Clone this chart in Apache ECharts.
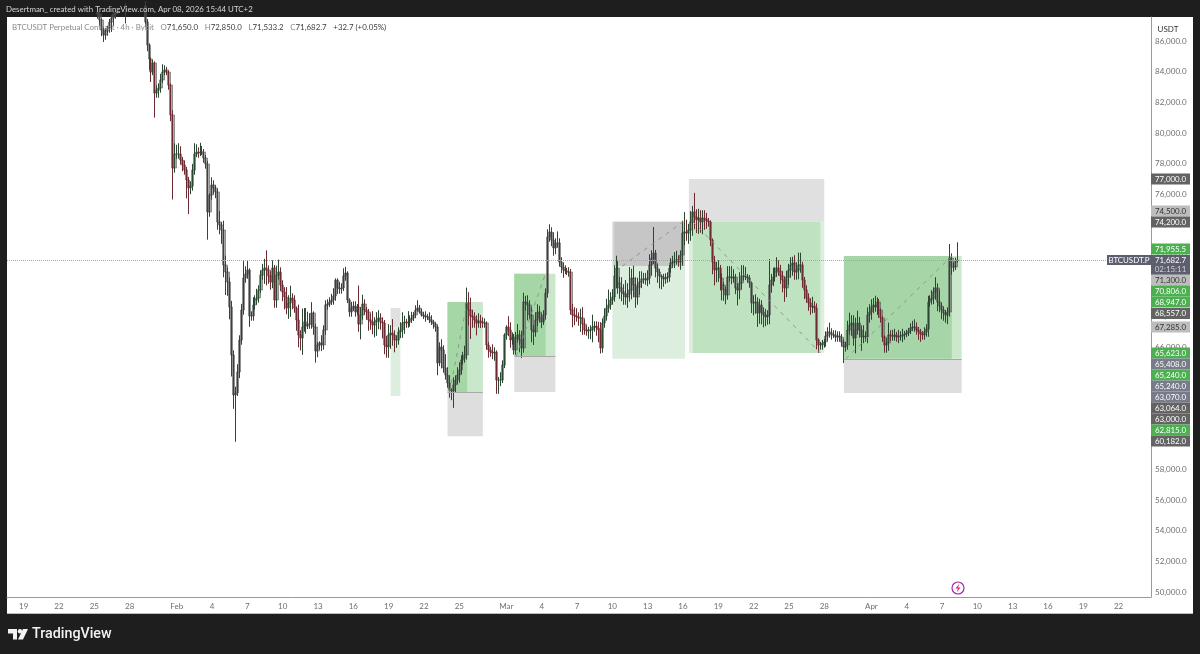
<!DOCTYPE html>
<html>
<head>
<meta charset="utf-8">
<title>BTCUSDT.P 4h</title>
<style>
  html, body { margin: 0; padding: 0; background: #1e1e1e; }
  #chart { width: 1200px; height: 654px; }
</style>
<script src="https://cdn.jsdelivr.net/npm/echarts@6/dist/echarts.min.js"></script>
</head>
<body>
<div id="chart"></div>
<script>
// 4h closes (first bar sits in slot 46)
const closes = [
  87780,87385,86730,86405,86665,86860,87255,87515,87780,87910,
  88365,88495,88495,88300,88170,88365,88495,88495,88625,88625,
  88365,88495,88495,88300,87255,85750,84835,83985,84575,82615,
  82810,82940,83465,83985,84120,83985,83135,81175,77710,78625,
  78625,78625,78235,77905,77580,76930,76405,76535,77580,78625,
  78755,78690,78755,78755,78365,77975,74835,75945,76600,76405,
  76145,74185,73985,73660,71375,70915,70260,68625,65490,62875,
  63010,64380,66470,68430,70520,70785,71045,68040,68040,68760,
  69085,69215,69740,70720,71045,71175,71045,70650,70260,71175,
  69085,70720,70915,70065,69610,69280,68560,68890,69215,69085,
  68560,67780,66800,66600,67320,67650,67385,67515,67515,68235,67320,
  65750,66145,66275,66145,67125,68760,68825,68955,69085,69345,
  70390,69870,69805,69870,70650,70850,69085,68300,68560,68690,
  68300,68625,67515,68105,68825,68430,68300,67780,67650,67450,
  67650,67780,67910,67650,67580,66145,66015,66800,66930,66800,
  66470,66470,66995,67125,67580,67650,67580,67650,67780,67910,
  68105,68430,68560,68300,68105,68040,67975,67975,67780,67650,
  67515,67320,64970,66015,65820,64640,64185,63660,63205,63140,
  63530,63855,64185,64510,65165,65295,65490,68890,68430,68040,
  67975,67780,67580,67710,67650,67580,67580,66145,65820,65685,
  65620,65685,63855,63855,63855,64835,66800,67320,67125,66470,
  66665,65820,66600,66800,66470,65945,68955,68890,68760,68105,
  67125,66995,67780,68300,67910,67650,68105,69540,73200,73530,
  73005,72485,72810,72810,71570,71240,71045,70980,70915,70915,
  68430,68105,68040,67975,67910,67910,67515,67125,67060,67125,
  67125,67320,67385,67255,67125,65945,67580,68040,68560,68760,
  69085,69280,70650,71175,70195,69870,69610,69480,69280,69480,
  69740,70520,70065,69280,69935,70260,70455,70455,70390,70520,
  71375,71830,72155,71175,70915,70650,70590,70455,70520,70590,
  71175,71505,71570,71700,71700,71570,72025,73465,73530,73465,
  73660,74185,74835,74510,74315,74445,74185,74445,74380,74250,
  74185,73005,71570,71045,71175,71175,70520,70065,69740,69410,
  70590,70590,70520,70590,69870,69740,70195,70650,70650,70590,
  70520,70195,68890,68890,68955,68235,68760,68300,68105,67975,
  68105,70065,70390,70590,70915,71175,70980,70650,70390,69870,
  70590,71045,71375,71505,70915,71045,71375,71375,70390,69740,
  69215,68890,68625,68690,68560,66470,66145,66145,66275,66340,
  66730,66995,66930,66800,66800,66665,66730,66665,66340,66015,
  66145,67125,67450,67580,66600,67125,67580,67125,66665,66730,
  66665,68105,68300,68625,68760,68625,68955,68430,67910,66665,
  66145,66275,66800,66730,66730,66800,66665,66730,66730,66800,
  66860,66930,67060,67255,67320,67320,67125,66995,66860,66800,
  66995,67190,68955,69085,69215,69610,69870,68955,68690,68430,
  68235,68105,68300,71830,71240,71240,71650,71682.7
];
// wick lengths above / below the body, in USDT
const upperWicks = [
  200,150,100,150,200,150,200,200,200,200,
  200,200,200,200,200,200,200,200,200,200,
  200,200,200,200,300,200,100,100,200,100,
  300,300,400,500,300,200,100,100,300,700,
  600,700,500,200,300,200,200,300,400,700,
  500,300,600,400,200,200,200,100,500,300,
  200,200,700,200,600,600,300,300,400,300,
  400,500,300,400,1100,500,600,100,300,500,
  300,600,300,300,400,600,1150,300,300,500,
  200,600,800,300,300,300,650,500,800,300,
  300,100,1000,300,1200,900,900,800,700,700,100,
  200,200,100,500,300,300,300,300,400,500,
  100,100,400,300,500,400,100,100,400,300,
  300,200,1400,500,600,300,200,200,400,700,
  300,500,500,300,300,200,600,700,500,900,
  300,300,300,500,700,400,200,700,300,400,
  200,300,500,200,200,200,300,200,300,300,
  100,100,100,300,500,300,900,500,500,100,
  500,300,500,500,300,400,600,1000,700,800,
  400,300,300,500,400,300,300,100,200,200,
  500,300,100,200,500,300,100,100,700,500,
  300,200,400,700,300,600,600,400,500,300,
  500,300,500,500,400,300,300,300,500,500,
  300,500,300,750,300,300,300,300,200,300,
  200,400,500,500,300,600,700,300,300,200,
  300,800,300,300,400,500,300,500,600,1000,
  500,500,700,800,500,400,700,500,900,700,
  1500,600,800,500,600,700,500,400,400,500,
  700,500,1700,200,300,200,100,200,300,300,
  200,300,400,500,600,300,300,800,1300,800,
  400,700,400,1250,500,600,500,500,500,400,
  200,100,100,400,400,500,200,300,200,200,
  700,700,700,500,200,300,700,700,700,600,
  200,200,100,500,500,300,400,300,300,400,
  300,1700,400,600,300,700,500,400,300,200,
  400,400,500,400,500,500,800,800,200,200,
  300,300,300,600,300,300,100,200,200,200,
  300,300,600,300,300,300,300,300,200,200,
  200,600,800,500,500,800,800,400,300,700,
  300,500,500,500,450,600,300,200,100,100,
  100,300,800,300,400,400,200,400,300,400,
  200,200,200,300,400,500,300,200,200,200,
  300,300,400,300,500,300,700,300,800,200,
  200,200,300,915,300,300,200,1167
];
const lowerWicks = [
  300,400,400,450,300,300,300,650,500,300,
  200,300,200,300,1000,300,200,200,200,200,
  200,200,200,500,300,400,700,650,200,1600,
  300,500,300,200,200,200,300,400,2050,300,
  300,300,300,400,300,1200,1700,400,300,300,
  200,300,200,200,300,300,1800,300,300,400,
  400,500,600,900,800,1500,900,800,1400,900,
  3050,200,400,300,300,300,300,700,300,300,
  300,300,300,200,300,900,1000,500,500,400,
  500,500,300,400,600,800,400,700,900,600,
  300,700,800,800,1100,300,500,200,300,300,500,
  750,400,300,400,300,300,300,200,200,300,
  300,400,300,300,200,300,200,300,300,200,
  300,200,500,1000,300,300,500,700,500,600,
  800,900,600,500,1000,600,700,700,900,700,
  800,500,300,400,500,700,300,300,300,200,
  200,200,100,100,100,200,300,200,200,200,
  300,300,800,200,1200,300,300,300,500,600,
  1100,500,300,500,300,300,300,300,1000,1500,
  700,500,800,300,400,300,300,300,500,300,
  400,500,900,900,400,200,200,300,400,500,
  300,300,300,300,800,650,300,500,1000,300,
  800,850,300,400,300,400,200,300,300,300,
  400,500,400,300,300,400,500,200,200,300,
  300,800,600,300,500,900,700,300,300,500,
  600,800,300,500,800,350,300,300,300,300,
  300,300,300,800,700,700,600,700,500,700,
  500,600,800,700,500,500,400,300,300,400,
  400,700,400,600,700,800,800,500,300,300,
  300,300,300,400,300,300,500,700,800,500,
  700,700,900,800,850,900,700,800,700,500,
  300,400,800,1000,800,900,800,1000,700,600,
  300,300,400,300,400,1000,600,400,300,200,
  300,300,650,800,700,900,700,800,800,600,
  500,600,500,400,300,300,300,500,800,900,
  600,500,500,700,500,500,600,500,500,600,
  300,500,500,400,300,600,500,300,300,300,
  300,300,300,300,200,300,300,300,300,1050,
  300,300,300,700,500,1000,300,500,900,400,
  300,400,500,500,400,300,500,500,300,300,
  500,500,500,300,300,300,300,400,300,400,
  300,200,200,200,200,300,300,500,500,300,
  300,300,500,300,300,400,500,600,400,600,
  500,500,600,300,500,300,200,117
];
const firstOpen = 87900;
const lastPrice = 71682.7;

const firstBarSlot = 46;
const slotCount = 583;

const tickDates = ['01-19','01-22','01-25','01-28','02-01','02-04','02-07','02-10','02-13','02-16','02-19','02-22','02-25',
  '03-01','03-04','03-07','03-10','03-13','03-16','03-19','03-22','03-25','03-28','04-01','04-04','04-07','04-10','04-13','04-16','04-19','04-22'];
const tickLabels = ['19','22','25','28','Feb','4','7','10','13','16','19','22','25',
  'Mar','4','7','10','13','16','19','22','25','28','Apr','4','7','10','13','16','19','22'];
const priceTicks = [50000,52000,54000,56000,58000,60000,62000,64000,66000,68000,70000,72000,74000,76000,78000,80000,82000,84000,86000];

// position tool rectangles, back to front (slot indexes and prices)
const zoneStarts  = [195,195,224,224,224,258,258,258,308,309,308,347,347,349,426,426,426];
const zoneEnds    = [200,200,242,242,234,279,279,274,345,345,345,416,416,414,486,486,481];
const zoneTops    = [68557,67285,63070,68947,68947,65408,70806,70806,74200,74200,71300,77000,74200,74200,65240,71955.5,71955.5];
const zoneBottoms = [67285,62815,60182,63070,63070,63064,65408,65408,71300,71300,65240,74200,65623,65623,63000,65240,65240];
const zoneFills   = ['#e0e0e0','#dceedd','#dedede','#c9e7ca','#a5d6a6','#dedede','#c9e7ca','#a5d6a6','#d6d6d6','#c6c6c6','#dceedd','#e0e0e0','#dceedd','#bfe3c0','#dedede','#cce8cc','#a6d6a7'];

// dashed path inside each tool
const pathStarts = [[225,63070],[259,65408],[313,71300],[349,74200],[427,65240]];
const pathEnds   = [[234,68947],[274,70806],[344,74200],[414,65623],[481,71955.5]];
// entry lines
const entryStarts = [[224,63070],[258,65408],[426,65240]];
const entryEnds   = [[242,63070],[279,65408],[486,65240]];

// price scale tags
const tagTexts = ['77,000.0','74,500.0','74,200.0','71,955.5','71,682.7','71,300.0','70,806.0','68,947.0','68,557.0','67,285.0','65,623.0','65,408.0','65,240.0','65,240.0','63,070.0','63,064.0','63,000.0','62,815.0','60,182.0'];
const tagKinds = ['dark','light','dark','green','slate','light','green','green','dark','light','green','slate2','green','slate2','slate2','dark','dark','green','dark'];
const tagCenters = [179,211,222,249,260,280,291,302,313.5,327,353,364,375,386,397,408,419,430,441];

const FONT = 'Lato, "Noto Sans", sans-serif';
const tagStyles = {
  dark: { fill: '#636363', text: '#fff' },
  light: { fill: '#bdbdbd', text: '#333' },
  green: { fill: '#4caf50', text: '#fff' },
  slate: { fill: '#5d5e6e', text: '#fff' },
  slate2: { fill: '#787b8a', text: '#fff' }
};

// one category per 4h slot
const categories = [];
const slotStart = Date.UTC(2026, 0, 17, 16);
for (let i = 0; i < slotCount; i++) {
  const d = new Date(slotStart + i * 4 * 3600 * 1000);
  const mm = String(d.getUTCMonth() + 1).padStart(2, '0');
  const dd = String(d.getUTCDate()).padStart(2, '0');
  const hh = String(d.getUTCHours()).padStart(2, '0');
  categories.push(mm + '-' + dd + ' ' + hh);
}

const candleData = [];
for (let i = 0; i < firstBarSlot; i++) candleData.push(['-', '-', '-', '-']);
closes.forEach((c, i) => {
  const o = i ? closes[i - 1] : firstOpen;
  candleData.push([o, c, Math.min(o, c) - lowerWicks[i], Math.max(o, c) + upperWicks[i]]);
});

const zoneData = zoneStarts.map((s, i) => [
  { xAxis: s, yAxis: zoneTops[i], itemStyle: { color: zoneFills[i], opacity: 1 } },
  { xAxis: zoneEnds[i], yAxis: zoneBottoms[i] }
]);

const lineData = [{ yAxis: lastPrice, lineStyle: { color: '#a6a6a6', type: 'dotted', width: 1 } }];
pathStarts.forEach((p, i) => {
  lineData.push([
    { coord: p, lineStyle: { color: '#8e8e8e', type: [4, 5], width: 1, opacity: 0.9 } },
    { coord: pathEnds[i] }
  ]);
});
entryStarts.forEach((p, i) => {
  lineData.push([
    { coord: p, lineStyle: { color: '#a8a8a8', type: 'solid', width: 1 } },
    { coord: entryEnds[i] }
  ]);
});

// tags, header and logo are drawn on top of the plot
const graphics = [
  { type: 'rect', z: -10, shape: { x: 7, y: 17, width: 1186, height: 597 }, style: { fill: '#fff' } },
  { type: 'rect', z: -9, shape: { x: 7, y: 613, width: 1186, height: 1 }, style: { fill: '#bdbdbd' } },
  { type: 'text', z: 50, x: 6, y: 9, style: { text: 'Desertman_ created with TradingView.com, Apr 08, 2026 15:44 UTC+2', fill: '#d6d6d6', font: '7.9px ' + FONT, verticalAlign: 'middle' } },
  { type: 'text', z: 50, x: 12, y: 27, style: {
      text: '{g|BTCUSDT Perpetual Contract · 4h · Bybit}  {g|O}{v|71,650.0}  {g|H}{v|72,850.0}  {g|L}{v|71,533.2}  {g|C}{v|71,682.7}  {v|+32.7 (+0.05%)}',
      verticalAlign: 'middle',
      rich: {
        g: { fill: '#8a8a8a', font: '7.9px ' + FONT },
        v: { fill: '#3c3c3c', font: '7.9px ' + FONT }
      }
    } },
  { type: 'text', z: 50, x: 1168, y: 29, style: { text: 'USDT', fill: '#333', font: '8px ' + FONT, align: 'center', verticalAlign: 'middle' } },
  // last price block and symbol tag
  { type: 'rect', z: 51, shape: { x: 1151, y: 255, width: 39, height: 20 }, style: { fill: tagStyles.slate.fill } },
  { type: 'rect', z: 51, shape: { x: 1107, y: 255, width: 44, height: 10 }, style: { fill: tagStyles.slate.fill } },
  { type: 'text', z: 52, x: 1129, y: 260, style: { text: 'BTCUSDT.P', fill: '#fff', font: '7.9px ' + FONT, align: 'center', verticalAlign: 'middle' } },
  { type: 'text', z: 52, x: 1170.5, y: 269.5, style: { text: '02:15:11', fill: '#d0d0d8', font: '7.9px ' + FONT, align: 'center', verticalAlign: 'middle' } },
  // lightning badge
  { type: 'circle', z: 50, shape: { cx: 958, cy: 588, r: 6 }, style: { fill: '#fff', stroke: '#9c27b0', lineWidth: 1.2 } },
  { type: 'polygon', z: 51, shape: { points: [[959.5, 583.5], [955.5, 588.5], [958, 588.5], [956.5, 592.5], [960.5, 587.5], [958, 587.5]] }, style: { fill: '#e91e63' } },
  // TradingView logo
  { type: 'polygon', z: 50, shape: { points: [[8, 629], [17, 629], [17, 639.5], [13, 639.5], [13, 633.5], [8, 633.5]] }, style: { fill: '#f2f2f2' } },
  { type: 'circle', z: 50, shape: { cx: 20, cy: 631.3, r: 2.2 }, style: { fill: '#f2f2f2' } },
  { type: 'polygon', z: 50, shape: { points: [[23, 629], [28, 629], [23, 639.5], [18, 639.5]] }, style: { fill: '#f2f2f2' } },
  { type: 'text', z: 50, x: 32, y: 634, style: { text: 'TradingView', fill: '#f2f2f2', font: '500 14.3px Roboto, ' + FONT, verticalAlign: 'middle' } }
];
tagTexts.forEach((t, i) => {
  const st = tagStyles[tagKinds[i]];
  if (tagKinds[i] !== 'slate') {
    graphics.push({ type: 'rect', z: 51, shape: { x: 1151, y: tagCenters[i] - 5.5, width: 39, height: 11 }, style: { fill: st.fill } });
  }
  graphics.push({ type: 'text', z: 52, x: 1170.5, y: tagCenters[i], style: { text: t, fill: st.text, font: '7.9px ' + FONT, align: 'center', verticalAlign: 'middle' } });
});

const chart = echarts.init(document.getElementById('chart'), null, { renderer: 'canvas' });
chart.setOption({
  animation: false,
  backgroundColor: '#1e1e1e',
  grid: { left: 7, right: 49, top: 17, bottom: 57 },
  xAxis: {
    type: 'category',
    data: categories,
    boundaryGap: true,
    axisTick: { show: false },
    axisLine: { lineStyle: { color: '#9a9a9a', width: 1 } },
    splitLine: { show: false },
    axisLabel: {
      margin: 5,
      color: '#6e6e6e',
      fontFamily: FONT,
      fontSize: 8,
      hideOverlap: false,
      interval: (idx, name) => name.slice(6) === '00' && tickDates.includes(name.slice(0, 5)),
      formatter: (name) => tickLabels[tickDates.indexOf(name.slice(0, 5))]
    }
  },
  yAxis: {
    type: 'value',
    position: 'right',
    min: 49673,
    max: 87582,
    scale: true,
    axisLine: { show: true, lineStyle: { color: '#9a9a9a', width: 1 } },
    axisTick: { show: false, customValues: priceTicks },
    splitLine: { show: false },
    axisLabel: {
      customValues: priceTicks,
      margin: 4,
      color: '#6e6e6e',
      fontFamily: FONT,
      fontSize: 8,
      formatter: (v) => v.toLocaleString('en-US') + '.0'
    }
  },
  graphic: { elements: graphics },
  series: [
    // soft grey halo around the bars
    {
      type: 'candlestick',
      data: candleData,
      barWidth: 3,
      clip: true,
      silent: true,
      itemStyle: {
        color: 'rgba(85,85,85,0.5)',
        color0: 'rgba(85,85,85,0.5)',
        borderColor: 'rgba(85,85,85,0.55)',
        borderColor0: 'rgba(85,85,85,0.55)',
        borderWidth: 1
      },
      markArea: { silent: true, data: zoneData },
      markLine: { silent: true, symbol: 'none', label: { show: false }, data: lineData }
    },
    {
      type: 'candlestick',
      data: candleData,
      barWidth: 1,
      clip: true,
      silent: true,
      itemStyle: {
        color: '#2b4631',
        color0: '#6b2b30',
        borderColor: '#2b4631',
        borderColor0: '#6b2b30',
        borderWidth: 1
      }
    }
  ]
});
</script>
</body>
</html>
